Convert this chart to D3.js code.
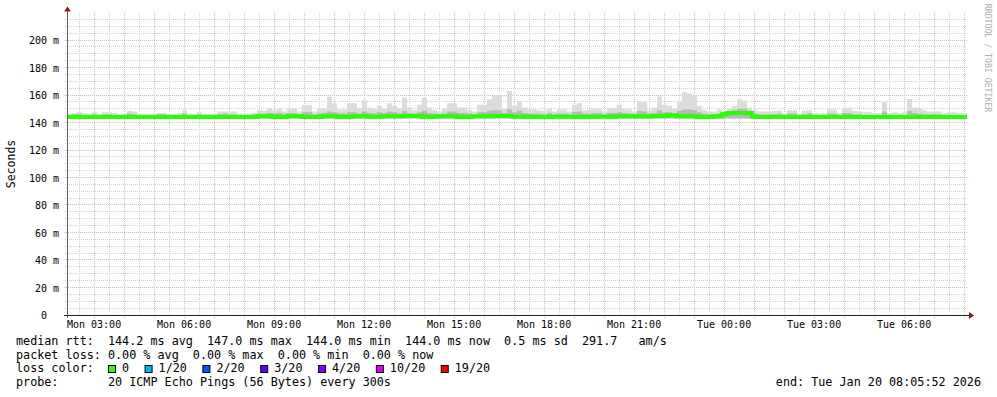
<!DOCTYPE html>
<html><head><meta charset="utf-8">
<script src="https://cdn.jsdelivr.net/npm/d3@7/dist/d3.min.js"></script>
<style>
html,body{margin:0;padding:0;background:#fff;}
svg{display:block;}
text{font-family:"DejaVu Sans Mono",monospace;white-space:pre;}
</style></head>
<body>
<svg id="c" width="997" height="397"></svg>
<script>
// ---- data (10-minute bins, Mon 19 Jan 2026 02:05:52 -> Tue 20 Jan 08:05:52) ----
const startTime = new Date(2026, 0, 19, 2, 5, 52);
const endTime = new Date(2026, 0, 20, 8, 5, 52);
const binMinutes = 10;
const yTicks = [0, 20, 40, 60, 80, 100, 120, 140, 160, 180, 200];
const smokeHi = [
146.5,147,147.5,147,146.5,147.5,146.5,147.5,147.5,147,
146,146.5,148.5,148,146.5,146,146,146.5,147,147,
146,146,147,149,146.5,146,147.5,146.5,146,146.5,
148,148,147.5,148,146.5,146,146.5,147,149,148.5,
150,149,150,148,150,150,148,152.5,152.5,148,
150,150,159,154,149.5,149.5,154,154,150,156,
151,150,152,150,154,152,150,158,151,149,
153,158,151,149,148,150,154,154,151,151,
149,148,153,153,157,160,160,150,163,152,
155.5,151,149.5,149.5,149,148.5,150,148,149.5,149.5,
148,153,154,149,149.5,150,150,148,150,150.5,
153,150,149.5,148,155.5,155,149,151,159,153,
152,150,155.5,162,161,160,152,149,148,148,
149.5,148,150,152,157,156,151,149,148,148,
148,148.5,148.5,147,149,149,147,148.5,149,147,
146.5,147,149.5,149.5,147,150,151,148.5,148,147.5,
147.5,147,147,155,147,147.5,147,147.5,157,151,
150,149,148,148,148,147,147.5,147.5,147,147
];
const smokeMid = [
145.5,146,146,145.5,145.5,146,145.5,146,146,145.5,
145.5,145.5,146.5,146,145.5,145.5,145.5,145.5,146,146,
145.5,145.5,145.5,146.5,145.5,145.5,146,145.5,145.5,145.5,
146,146.5,146,146,145.5,145.5,145.5,146,146.5,146.5,
147,146.5,147,146,147,147,146,147.5,147.5,146,
146.5,147,148,147.5,146.5,146.5,147.5,147.5,146.5,148,
147,146.5,147.5,147,148,147.5,146.5,148.5,147,146.5,
147.5,148.5,147,146.5,146,146.5,148,148,147,147,
146.5,146,147.5,147.5,148.5,149,149,147,149.5,147.5,
148.5,147,146.5,146.5,146.5,146,147,146,146.5,146.5,
146,147.5,148,146.5,146.5,147,147,146,147,147,
147.5,147,146.5,146,148.5,148,146.5,147,149,147.5,
147.5,147,148.5,149.5,149.5,149,147.5,146.5,146,146,
146.5,147.5,148,149,150,150,148,146.5,146,146,
146,146,146.5,145.5,146.5,146.5,145.5,146,146.5,145.5,
145.5,145.5,146.5,146.5,145.5,147,147,146,146,145.5,
145.5,145.5,145.5,148,145.5,145.5,145.5,145.5,148.5,147,
146.5,146,146,146,146,145.5,145.5,145.5,145.5,145.5
];
const medianRtt = [
144,144,144,144,144,144,144,144,144,144,
144,144,144,144,144,144,144,144,144,144,
144,144,144,144,144,144,144,144,144,144,
144,144,144,144,144,144,144,144,144.5,144.5,
144.5,144,144,144,144.6,144.6,144.6,144,144,144,
144,144.5,144.5,144.5,144,144,144,144.6,144.6,144.6,
144.2,144.2,144.2,144.6,144.6,144.6,144.6,144.8,144.8,144.8,
144.8,144.2,144.2,144.2,144.6,144.6,144.6,144.6,144,144,
144,144.6,144.6,144.6,144.6,144.8,144.8,144.8,144.8,144.2,
144.2,144.2,144.2,144,144,144,144,144.2,144.2,144.2,
144.2,144,144,144,144,144.2,144.2,144.2,144.2,144.2,
144.6,144.6,144.6,144.6,144.4,144.4,144.4,144.8,144.8,144.8,
145.3,145.3,144.5,144.5,144.5,144.5,144,144,144,144.4,
144.5,146,147,147,147,147,147,144.2,144,144,
144,144,144,144,144,144,144,144,144,144,
144,144,144,144,144,144,144,144,144,144,
144,144,144,144,144,144,144,144,144,144,
144,144,144,144,144,144,144,144,144,144
];
const legendRtt = "median rtt:  144.2 ms avg  147.0 ms max  144.0 ms min  144.0 ms now  0.5 ms sd  291.7   am/s";
const legendLoss = "packet loss: 0.00 % avg  0.00 % max  0.00 % min  0.00 % now";
const lossLabels = ["0", "1/20", "2/20", "3/20", "4/20", "10/20", "19/20"];
const lossColors = ["#26ff00", "#00b8ff", "#0059ff", "#5e00ff", "#7e00ff", "#dd00ff", "#ff0000"];
const probeText = "probe:       20 ICMP Echo Pings (56 Bytes) every 300s";
const endText = "end: Tue Jan 20 08:05:52 2026";

// ---- drawing ----
const svg = d3.select("#c");
const L = 67, R = 967, B = 315, T = 12.5;
const x = d3.scaleTime().domain([startTime, endTime]).range([L, R]);
const y = d3.scaleLinear().domain([0, 220]).range([B, T]);
const snap = v => Math.round(v) + 0.5;
const binStart = i => d3.timeMinute.offset(startTime, i * binMinutes);

// grid
const g = svg.append("g").attr("shape-rendering", "crispEdges");
const minorY = d3.range(5, 220, 5).filter(v => v % 20 !== 0);
const majorY = yTicks.filter(v => v > 0);
const minorCol = "#d2d2d2", majorCol = "#ebb6b6";
g.selectAll(".hmin").data(minorY).join("line")
  .attr("x1", L - 2).attr("x2", R).attr("y1", d => snap(y(d) - 0.5)).attr("y2", d => snap(y(d) - 0.5))
  .attr("stroke", minorCol).attr("stroke-dasharray", "1,1");
const minorX = d3.timeMinute.every(30).range(startTime, endTime).filter(d => d.getMinutes() !== 0);
const majorX = d3.timeHour.every(1).range(startTime, endTime);
g.selectAll(".vmin").data(minorX).join("line")
  .attr("x1", d => snap(x(d))).attr("x2", d => snap(x(d))).attr("y1", T).attr("y2", B + 2)
  .attr("stroke", minorCol).attr("stroke-dasharray", "1,1");
g.selectAll(".hmaj").data(majorY).join("line")
  .attr("x1", L - 3).attr("x2", R).attr("y1", d => snap(y(d) - 0.5)).attr("y2", d => snap(y(d) - 0.5))
  .attr("stroke", majorCol).attr("stroke-dasharray", "1,1");
g.selectAll(".vmaj").data(majorX).join("line")
  .attr("x1", d => snap(x(d))).attr("x2", d => snap(x(d))).attr("y1", T).attr("y2", B + 3)
  .attr("stroke", majorCol).attr("stroke-dasharray", "1,1");

// smoke
const bins = smokeHi.map((v, i) => ({ t: binStart(i), hi: v, mid: smokeMid[i], med: medianRtt[i] }));
const binsExt = bins.concat([{ t: endTime, hi: bins[bins.length - 1].hi, mid: bins[bins.length - 1].mid, med: bins[bins.length - 1].med }]);
const areaHi = d3.area().curve(d3.curveStepAfter).x(d => x(d.t)).y0(y(143)).y1(d => y(d.hi));
const areaMid = d3.area().curve(d3.curveStepAfter).x(d => x(d.t)).y0(y(143)).y1(d => y(d.mid));
svg.append("path").datum(binsExt).attr("d", areaHi).attr("fill", "#dcdcdc");
svg.append("path").datum(binsExt).attr("d", areaMid).attr("fill", "#b8b8b8");

// median line
svg.append("path").datum(binsExt)
  .attr("d", d3.line().curve(d3.curveStepAfter).x(d => x(d.t)).y(d => y(d.med)))
  .attr("fill", "none").attr("stroke", lossColors[0]).attr("stroke-width", 4);

// axes
svg.append("line").attr("x1", L - 3).attr("x2", R + 3).attr("y1", B + 0.5).attr("y2", B + 0.5).attr("stroke", "#202020");
svg.append("line").attr("x1", L + 0.5).attr("x2", L + 0.5).attr("y1", B + 3).attr("y2", T - 1).attr("stroke", "#606060");
svg.append("path").attr("d", `M${R + 2},${B - 3}L${R + 7},${B + 0.5}L${R + 2},${B + 4}Z`).attr("fill", "#8b1c1c");
svg.append("path").attr("d", `M${L - 3},${T - 1}L${L + 0.5},${T - 6}L${L + 4},${T - 1}Z`).attr("fill", "#8b1c1c");

// y labels
svg.selectAll(".yl").data(yTicks).join("text")
  .attr("x", 59).attr("y", d => y(d) + 4)
  .attr("text-anchor", "end").attr("font-size", "10px").attr("fill", "#000")
  .text(d => d === 0 ? "0  " : d + " m");
// x labels
const labelTicks = d3.timeHour.every(3).range(startTime, endTime);
svg.selectAll(".xl").data(labelTicks).join("text")
  .attr("x", d => x(d)).attr("y", 328)
  .attr("text-anchor", "middle").attr("font-size", "10px").attr("fill", "#000")
  .text(d3.timeFormat("%a %H:%M"));

// axis title
svg.append("text").attr("transform", "translate(15,164) rotate(-90)")
  .attr("text-anchor", "middle").attr("font-size", "11.5px").text("Seconds");
// watermark
svg.append("text").attr("transform", "translate(985,58) rotate(90)")
  .attr("text-anchor", "middle").attr("font-size", "8.2px").attr("fill", "#b0b0b0")
  .text("RRDTOOL / TOBI OETIKER");

// legend
const fs = "11.75px", cw = 7.08;
svg.append("text").attr("x", 16).attr("y", 345).attr("font-size", fs).text(legendRtt);
svg.append("text").attr("x", 16).attr("y", 358.7).attr("font-size", fs).text(legendLoss);
svg.append("text").attr("x", 16).attr("y", 372.4).attr("font-size", fs).text("loss color:");
let lx = 108;
lossLabels.forEach((lab, i) => {
  svg.append("rect").attr("x", lx + 0.5).attr("y", 365.5).attr("width", 7).attr("height", 7)
    .attr("fill", lossColors[i]).attr("stroke", "#000");
  svg.append("text").attr("x", lx + 14).attr("y", 372.4).attr("font-size", fs).text(lab);
  lx += 14 + lab.length * cw + 15.5;
});
svg.append("text").attr("x", 16).attr("y", 386.1).attr("font-size", fs).text(probeText);
svg.append("text").attr("x", 981).attr("y", 386.1).attr("text-anchor", "end").attr("font-size", fs).text(endText);
</script>
</body></html>
